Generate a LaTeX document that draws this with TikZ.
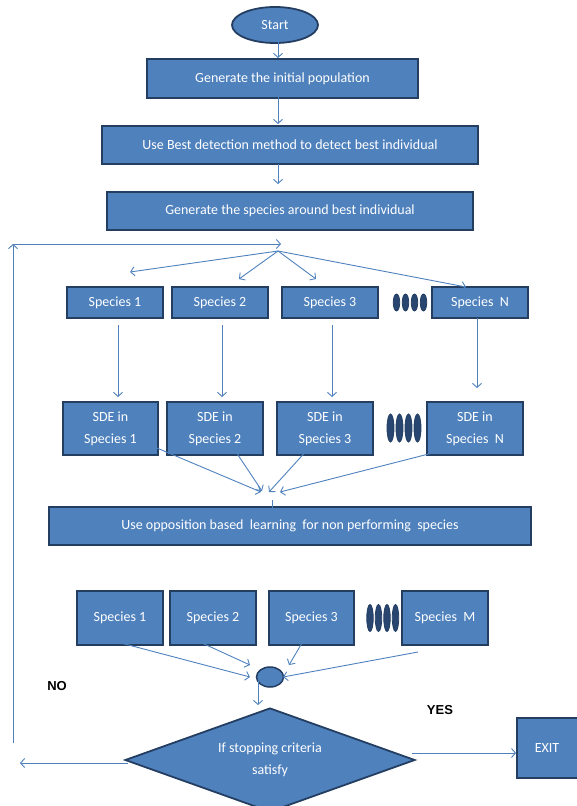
\documentclass[tikz,border=0pt]{standalone}
\usepackage{fontspec}
\setmainfont{Carlito}
\newfontfamily\labfont{Liberation Sans}
\usetikzlibrary{shapes.geometric,arrows.meta}
\definecolor{boxfill}{RGB}{79,129,189}
\definecolor{boxline}{RGB}{36,62,98}
\definecolor{dotfill}{RGB}{40,70,112}
\definecolor{conn}{RGB}{79,129,189}
\begin{document}
\begin{tikzpicture}[x=1pt,y=-1pt,
  box/.style={draw=boxline,line width=1.8pt,fill=boxfill,text=white,
    font=\fontsize{14}{22}\selectfont,inner sep=0pt,align=center},
  dotell/.style={ellipse,draw=boxline,line width=0.8pt,fill=dotfill,inner sep=0pt},
  arr/.style={draw=conn,line width=0.9pt,-{Straight Barb[length=4pt,width=9pt]}},
  plain/.style={draw=conn,line width=0.9pt},
  lab/.style={font=\labfont\bfseries\fontsize{13}{15}\selectfont,text=black}]
\useasboundingbox (0,0) rectangle (577,806);

% top chain
\node[box,ellipse,minimum width=86pt,minimum height=36pt] (start) at (275,25) {Start};
\node[box,minimum width=271pt,minimum height=39pt] (b1) at (282.5,78.5) {Generate the initial population};
\node[box,minimum width=376pt,minimum height=38pt] (b2) at (290,145) {Use Best detection method to detect best individual};
\node[box,minimum width=366pt,minimum height=38pt] (b3) at (290,211) {Generate the species around best individual};

\coordinate (a1s) at (278,42);  \coordinate (a1e) at (278,58);
\coordinate (a2s) at (278,97);  \coordinate (a2e) at (278,124);
\coordinate (a3s) at (278,164); \coordinate (a3e) at (278,184);
\draw[arr] (a1s) -- (a1e);
\draw[arr] (a2s) -- (a2e);
\draw[arr] (a3s) -- (a3e);

% row 1 species
\node[box,minimum width=96pt,minimum height=31pt] (s1) at (115,302.5) {Species 1};
\node[box,minimum width=96pt,minimum height=31pt] (s2) at (220,302.5) {Species 2};
\node[box,minimum width=96pt,minimum height=31pt] (s3) at (330,302.5) {Species 3};
\node[box,minimum width=96pt,minimum height=31pt] (sN) at (480,302.5) {Species\ \ N};
\foreach \i/\x in {1/396.5,2/405.5,3/414.5,4/423.5}
  \node[dotell,minimum width=6.5pt,minimum height=17pt] (da\i) at (\x,302.5) {};

% fan-out
\coordinate (fan) at (278,251);
\coordinate (f1) at (130,272);
\coordinate (f2) at (239,279);
\coordinate (f3) at (316,279);
\coordinate (f4) at (466,287);
\draw[arr] (fan) -- (f1);
\draw[arr] (fan) -- (f2);
\draw[arr] (fan) -- (f3);
\draw[arr] (fan) -- (f4);

% row 2 SDE
\node[box,minimum width=95pt,minimum height=53pt] (d1) at (110.5,428.5) {SDE in\\Species 1};
\node[box,minimum width=96pt,minimum height=53pt] (d2) at (215,428.5) {SDE in\\Species 2};
\node[box,minimum width=96pt,minimum height=53pt] (d3) at (325,428.5) {SDE in\\Species 3};
\node[box,minimum width=96pt,minimum height=53pt] (dN) at (475,428.5) {SDE in\\Species\ \ N};
\foreach \i/\x in {1/390.5,2/399.5,3/408.5,4/417.5}
  \node[dotell,minimum width=7pt,minimum height=28pt] (db\i) at (\x,428) {};

\coordinate (v1s) at (118,325); \coordinate (v1e) at (118,397);
\coordinate (v2s) at (222,325); \coordinate (v2e) at (222,397);
\coordinate (v3s) at (332,325); \coordinate (v3e) at (332,397);
\coordinate (v4s) at (477,318); \coordinate (v4e) at (477,388);
\draw[arr] (v1s) -- (v1e);
\draw[arr] (v2s) -- (v2e);
\draw[arr] (v3s) -- (v3e);
\draw[arr] (v4s) -- (v4e);

% converge
\coordinate (c1s) at (138,440); \coordinate (c1e) at (261,492);
\coordinate (c2s) at (230,443); \coordinate (c2e) at (262,491);
\coordinate (c3s) at (309,448); \coordinate (c3e) at (269,492);
\coordinate (c4s) at (456,447); \coordinate (c4e) at (280,492);
\draw[arr] (c1s) -- (c1e);
\draw[arr] (c2s) -- (c2e);
\draw[arr] (c3s) -- (c3e);
\draw[arr] (c4s) -- (c4e);

% opposition box
\node[box,minimum width=482pt,minimum height=38pt] (b4) at (290,526) {Use opposition based\ \ learning\ \ for non performing\ \ species};
\coordinate (t4s) at (272,500); \coordinate (t4e) at (272,521);
\draw[plain] (t4s) -- (t4e);

% row 3 species
\node[box,minimum width=86pt,minimum height=54pt] (m1) at (120,618) {Species 1};
\node[box,minimum width=86pt,minimum height=54pt] (m2) at (213,618) {Species 2};
\node[box,minimum width=85pt,minimum height=54pt] (m3) at (311.5,618) {Species 3};
\node[box,minimum width=86pt,minimum height=54pt] (mM) at (445,618) {Species\ \ M};
\foreach \i/\x in {1/370,2/378.5,3/387,4/395.5}
  \node[dotell,minimum width=6.5pt,minimum height=27pt] (dc\i) at (\x,618) {};

% hub
\node[box,ellipse,line width=1.5pt,minimum width=27pt,minimum height=20pt] (hub) at (270,677) {};
\coordinate (h1s) at (121,643); \coordinate (h1e) at (250,677);
\coordinate (h2s) at (202,643); \coordinate (h2e) at (250,665);
\coordinate (h3s) at (302,643); \coordinate (h3e) at (289,665);
\coordinate (h4s) at (418,652); \coordinate (h4e) at (283,677);
\draw[arr] (h1s) -- (h1e);
\draw[arr] (h2s) -- (h2e);
\draw[arr] (h3s) -- (h3e);
\draw[arr] (h4s) -- (h4e);

% decision
\node[box,diamond,shape aspect=2.9,minimum width=290pt,minimum height=104pt] (dia) at (270,760) {If stopping criteria\\satisfy};
\coordinate (hd) at (258,681); \coordinate (hde) at (258,705);
\draw[arr] (hd) -- (hde);

% exit
\node[box,minimum width=62pt,minimum height=60pt] (exit) at (548,748) {\hspace*{-2pt}EXIT};
\coordinate (ys) at (412,753);
\draw[arr] (ys) -- (exit.west |- ys);

% no branch
\coordinate (ns) at (128,763); \coordinate (ne) at (20,763);
\draw[arr] (ns) -- (ne);

% loop back
\coordinate (lb) at (13,743); \coordinate (lt) at (13,244); \coordinate (lf) at (281,244);
\draw[arr] (lb) -- (lt);
\draw[arr] (lt) -- (lf);

% labels
\node[lab] (no) at (57,686) {NO};
\node[lab] (yes) at (440,710) {YES};
\end{tikzpicture}
\end{document}
